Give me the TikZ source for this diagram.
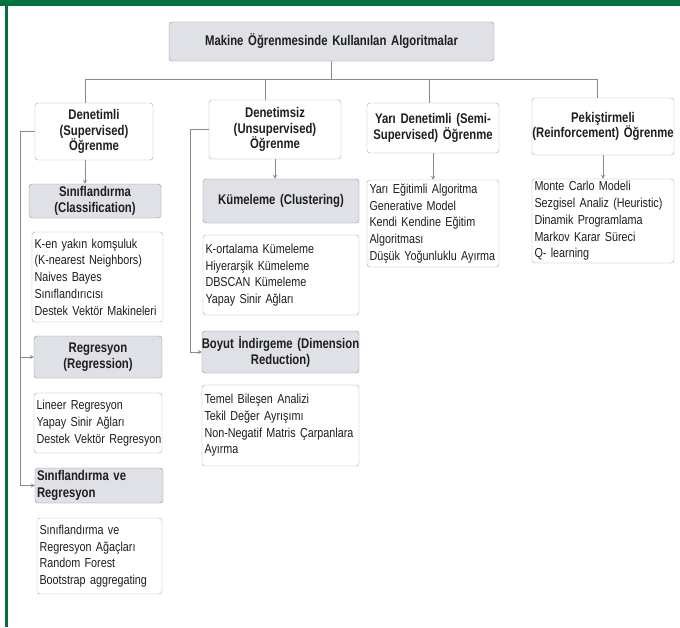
\documentclass[tikz,border=0pt]{standalone}
\usepackage{fontspec}
\setmainfont{Liberation Sans}[FakeStretch=0.83,BoldFeatures={FakeStretch=0.81}]
\definecolor{grn}{HTML}{00703C}
\definecolor{hdfill}{HTML}{DFE1E6}
\definecolor{hdline}{HTML}{8E9196}
\definecolor{bxline}{HTML}{A8A8A8}
\definecolor{lnclr}{HTML}{8A8A8A}
\definecolor{txt}{HTML}{1E1E1E}
\newcommand\keepl{\hyphenpenalty=10000 \leftskip=0pt\rightskip=0pt plus 1fil minus 40pt\relax}
\newcommand\keepc{\hyphenpenalty=10000 \leftskip=0pt plus 1fil minus 40pt\rightskip=0pt plus 1fil minus 40pt\relax}
\tikzset{
  hd/.style={draw=hdline,fill=hdfill,rounded corners=3pt,text=txt,align=center,
    inner xsep=1pt,inner ysep=0pt,font=\fontsize{14}{15.5}\selectfont\bfseries,
    execute at begin node=\keepc},
  tp/.style={draw=bxline,fill=white,rounded corners=3pt,text=txt,align=center,
    inner xsep=1pt,inner ysep=0pt,font=\fontsize{14}{15.5}\selectfont\bfseries,
    execute at begin node=\keepc},
  lst/.style={draw=bxline,fill=white,rounded corners=3pt,text=txt,align=left,
    inner xsep=2.5pt,inner ysep=0pt,font=\fontsize{13}{16.7}\selectfont,
    execute at begin node=\keepl},
  ln/.style={draw=lnclr,line width=0.8pt},
  arr/.style={ln,->,>=stealth}
}
\begin{document}
\begin{tikzpicture}[x=1pt,y=-1pt]
      \useasboundingbox (0,0) rectangle (680,627);
      \fill[white] (0,0) rectangle (680,627);
      \fill[grn] (0,0) rectangle (680,6);
      \fill[grn] (5,0) rectangle (7.5,627);
      \node[hd,text width=323,minimum height=39] (title) at (331.5,41.5) {Makine Öğrenmesinde Kullanılan Algoritmalar};
      \node[tp,text width=116,minimum height=57] (sup) at (94,131.5) {Denetimli\\(Supervised)\\Öğrenme};
      \node[tp,text width=130,minimum height=59] (uns) at (275,129.5) {Denetimsiz\\(Unsupervised)\\Öğrenme};
      \node[tp,text width=130,minimum height=50] (semi) at (433,128) {Yarı Denetimli (Semi-\\Supervised) Öğrenme};
      \node[tp,text width=140,minimum height=57] (rein) at (603,126.5) {Pekiştirmeli\\(Reinforcement) Öğrenme};
      \node[hd,text width=130,minimum height=34] (cls) at (95,201) {Sınıflandırma\\(Classification)};
      \node[lst,text width=126,minimum height=90] (clsl) at (97.5,277) {K-en yakın komşuluk\\(K-nearest Neighbors)\\Naives Bayes\\Sınıflandırıcısı\\Destek Vektör Makineleri};
      \node[hd,text width=126,minimum height=42] (reg) at (98,357) {Regresyon\\(Regression)};
      \node[lst,text width=123,minimum height=60] (regl) at (98,423) {Lineer Regresyon\\Yapay Sinir Ağları\\Destek Vektör Regresyon};
      \node[hd,align=left,inner xsep=2pt,text width=124,minimum height=35,
        font=\fontsize{14}{16.7}\selectfont\bfseries,execute at begin node=\keepl] (svr) at (99,485.5) {Sınıflandırma ve\\Regresyon};
      \node[lst,text width=120,minimum height=76] (svrl) at (99.5,556) {Sınıflandırma ve\\Regresyon Ağaçları\\Random Forest\\Bootstrap aggregating};
      \node[hd,text width=154,minimum height=44] (kum) at (281,201) {Kümeleme (Clustering)};
      \node[lst,text width=151,minimum height=80] (kuml) at (281,275) {K-ortalama Kümeleme\\Hiyerarşik Kümeleme\\DBSCAN Kümeleme\\Yapay Sinir Ağları};
      \node[hd,text width=155,minimum height=42] (boy) at (280.5,352) {Boyut İndirgeme (Dimension\\Reduction)};
      \node[lst,text width=152,minimum height=81] (boyl) at (280.5,425.5) {Temel Bileşen Analizi\\Tekil Değer Ayrışımı\\Non-Negatif Matris Çarpanlara\\Ayırma};
      \node[lst,text width=127,minimum height=87] (semil) at (433,223.5) {Yarı Eğitimli Algoritma\\Generative Model\\Kendi Kendine Eğitim\\Algoritması\\Düşük Yoğunluklu Ayırma};
      \node[lst,text width=137,minimum height=84] (reinl) at (603,221) {Monte Carlo Modeli\\Sezgisel Analiz (Heuristic)\\Dinamik Programlama\\Markov Karar Süreci\\Q- learning};
      \coordinate (d1) at (85,79);
      \coordinate (d2) at (265,79);
      \coordinate (d3) at (429,79);
      \coordinate (d4) at (597,79);
      \coordinate (l1) at (20,0);
      \coordinate (l2) at (190,0);
      \draw[ln] (title.south) -- (title.south |- d1);
      \draw[ln] (d1) -- (d4);
      \draw[ln] (d1) -- (d1 |- sup.north);
      \draw[ln] (d2) -- (d2 |- uns.north);
      \draw[ln] (d3) -- (d3 |- semi.north);
      \draw[ln] (d4) -- (d4 |- rein.north);
      \draw[arr] (d1 |- sup.south) -- (d1 |- cls.north);
      \draw[arr] (uns.south) -- (uns.south |- kum.north);
      \draw[arr] (semi.south) -- (semil.north);
      \draw[arr] (rein.south) -- (reinl.north);
      \draw[arr] (sup.west) -- (sup.west -| l1) -- (l1 |- svr.west) -- (svr.west);
      \draw[arr] (l1 |- reg.west) -- (reg.west);
      \draw[arr] (uns.west) -- (uns.west -| l2) -- (l2 |- boy.west) -- (boy.west);
    \end{tikzpicture}
\end{document}
